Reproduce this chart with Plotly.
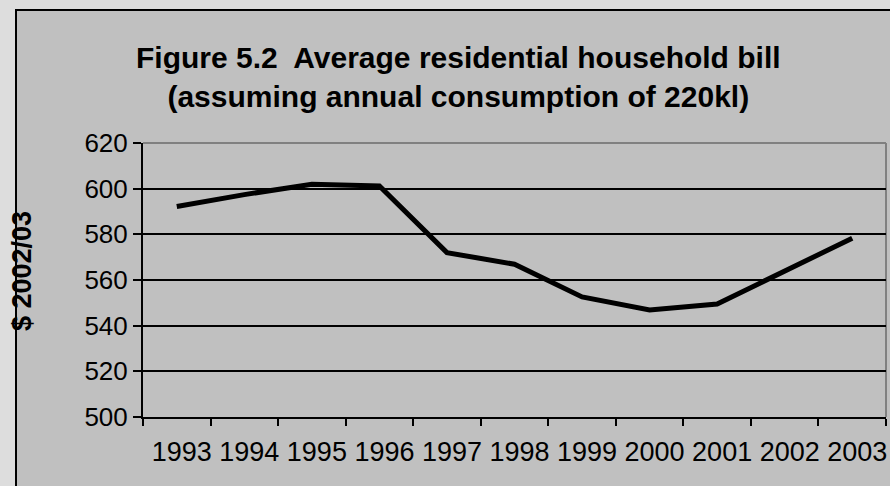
import plotly.graph_objects as go

# Average residential household bill, $ 2002/03 (220kl annual consumption)
years = ["1993", "1994", "1995", "1996", "1997", "1998",
         "1999", "2000", "2001", "2002", "2003"]
bill = [592.2, 597.4, 601.9, 601.2, 572.0, 566.9,
        552.6, 546.9, 549.5, 564.1, 578.3]
y_ticks = [500, 520, 540, 560, 580, 600, 620]

W, H = 890, 486
L, R, T, B = 143, 4, 143, 69
PW, PH = W - L - R, H - T - B


def px_x(px):
    return (px - L) / PW


def px_y(py):
    return (H - B - py) / PH


FONT = "Liberation Sans, Arial, sans-serif"

fig = go.Figure(
    go.Scatter(
        x=years,
        y=bill,
        mode="lines",
        line=dict(color="black", width=5),
        hoverinfo="x+y",
    )
)

fig.update_layout(
    width=W,
    height=H,
    margin=dict(l=L, r=R, t=T, b=B, pad=0, autoexpand=False),
    paper_bgcolor="#DDDDDD",
    plot_bgcolor="#C0C0C0",
    showlegend=False,
    font=dict(family=FONT, color="black"),
    xaxis=dict(
        type="category",
        range=[-0.5, len(years) - 0.5],
        tickson="boundaries",
        ticks="outside",
        ticklen=7,
        tickwidth=2,
        tickcolor="black",
        tickangle=0,
        automargin=False,
        showline=True,
        linecolor="black",
        linewidth=2,
        showgrid=False,
        zeroline=False,
        tickfont=dict(family=FONT, size=27, color="black"),
        ticklabelshift=5,
        ticklabelstandoff=10,
        fixedrange=True,
    ),
    yaxis=dict(
        range=[500, 620],
        tickvals=y_ticks,
        ticks="outside",
        ticklen=8,
        tickwidth=2,
        tickcolor="black",
        automargin=False,
        showline=True,
        linecolor="black",
        linewidth=2,
        showgrid=True,
        gridcolor="black",
        gridwidth=2,
        zeroline=False,
        tickfont=dict(family=FONT, size=26, color="black"),
        fixedrange=True,
    ),
    shapes=[
        # chart area panel with its black frame
        dict(
            type="rect", xref="paper", yref="paper", layer="below",
            x0=px_x(16), x1=px_x(W + 20), y0=px_y(H + 20), y1=px_y(10),
            fillcolor="#C0C0C0", line=dict(color="black", width=2),
        ),
        # grey frame on the top and right of the plot area
        dict(
            type="line", xref="paper", yref="paper", layer="between",
            x0=0, x1=1, y0=1, y1=1,
            line=dict(color="#808080", width=2),
        ),
        dict(
            type="line", xref="paper", yref="paper", layer="between",
            x0=1, x1=1, y0=0, y1=1,
            line=dict(color="#808080", width=2),
        ),
    ],
    annotations=[
        dict(
            text="<b>Figure 5.2  Average residential household bill<br>"
                 "(assuming annual consumption of 220kl)</b>",
            xref="paper", yref="paper",
            x=px_x(458), y=px_y(77),
            xanchor="center", yanchor="middle",
            showarrow=False, align="center",
            font=dict(family=FONT, size=30, color="black"),
        ),
        dict(
            text="<b>$ 2002/03</b>",
            xref="paper", yref="paper",
            x=px_x(22), y=px_y(271),
            xanchor="center", yanchor="middle",
            textangle=-90, showarrow=False,
            font=dict(family=FONT, size=27, color="black"),
        ),
    ],
)

fig.write_html("out.html")
